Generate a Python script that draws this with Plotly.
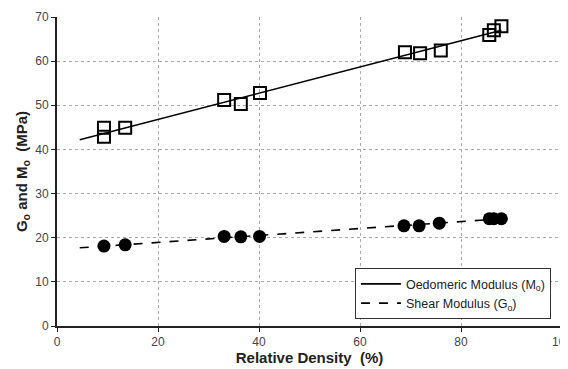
import numpy as np
import plotly.graph_objects as go

# Data
dr_M = [9.3, 9.3, 13.5, 33.1, 36.4, 40.2, 68.9, 71.9, 76.0, 85.6, 86.5, 88.0]
M_o = [44.9, 42.9, 44.9, 51.2, 50.3, 52.8, 62.0, 61.8, 62.4, 65.9, 67.0, 67.9]
dr_G = [9.3, 13.5, 33.1, 36.4, 40.1, 68.7, 71.7, 75.7, 85.6, 86.5, 88.0]
G_o = [18.1, 18.4, 20.3, 20.2, 20.3, 22.7, 22.7, 23.3, 24.3, 24.3, 24.3]
fit_x = [4.5, 88.0]

pM = np.polyfit(dr_M, M_o, 1)
pG = np.polyfit(dr_G, G_o, 1)
fx = np.array(fit_x)

fig = go.Figure()
fig.add_trace(go.Scatter(x=fx, y=np.polyval(pM, fx), mode="lines",
                         line=dict(color="black", width=1.6),
                         name="Oedomeric Modulus (M<sub>o</sub>)"))
fig.add_trace(go.Scatter(x=fx, y=np.polyval(pG, fx), mode="lines",
                         line=dict(color="black", width=1.6, dash="dash"),
                         name="Shear Modulus (G<sub>o</sub>)"))
fig.add_trace(go.Scatter(x=dr_M, y=M_o, mode="markers", showlegend=False,
                         marker=dict(symbol="square-open", size=12, color="black",
                                     line=dict(width=2, color="black"))))
fig.add_trace(go.Scatter(x=dr_G, y=G_o, mode="markers", showlegend=False,
                         marker=dict(symbol="circle", size=13, color="black")))

fig.update_layout(
    width=560, height=361,
    margin=dict(l=49, r=6, t=9, b=43),
    paper_bgcolor="white", plot_bgcolor="white",
    font=dict(family="Liberation Sans, Arial, sans-serif", color="#333"),
    legend=dict(x=0.59, y=0.022, xanchor="left", yanchor="bottom",
                bgcolor="white", bordercolor="#333", borderwidth=1,
                font=dict(size=12.5, color="#222"), tracegroupgap=0,
                itemwidth=40),
)
fig.update_xaxes(range=[0, 100], tickvals=[0, 20, 40, 60, 80, 100],
                 showgrid=True, gridcolor="#aaa", griddash="dot", gridwidth=1,
                 showline=True, linecolor="#222", linewidth=2,
                 ticks="outside", ticklen=4, tickcolor="#222",
                 tickfont=dict(size=12, color="#444"), zeroline=False,
                 automargin=False, ticklabeloverflow="allow",
                 title=dict(text="<b>Relative Density  (%)</b>",
                            font=dict(size=15, color="#222"), standoff=4))
fig.update_yaxes(range=[0, 70], tickvals=list(range(0, 80, 10)),
                 showgrid=True, gridcolor="#aaa", griddash="dot", gridwidth=1,
                 showline=True, linecolor="#222", linewidth=2,
                 ticks="outside", ticklen=4, tickcolor="#222",
                 tickfont=dict(size=12, color="#444"), zeroline=False,
                 automargin=False,
                 title=dict(text="<b>G<sub>o</sub> and M<sub>o</sub>  (MPa)</b>",
                            font=dict(size=15, color="#222"), standoff=4))

fig.write_html("out.html")
